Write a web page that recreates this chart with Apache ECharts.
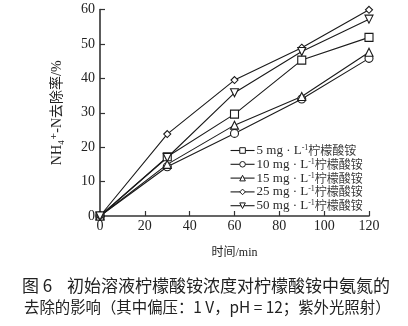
<!DOCTYPE html>
<html>
<head>
<meta charset="utf-8">
<script src="https://cdn.jsdelivr.net/npm/echarts@6/dist/echarts.min.js"></script>
<style>
  html, body { margin: 0; padding: 0; background: #fff; }
  #chart { width: 408px; height: 326px; }
</style>
</head>
<body>
<div id="chart"></div>
<script>
// Sampling times (min)
const times = [0, 30, 60, 90, 120];

// NH4+-N removal (%) for each initial ammonium citrate concentration
const conc5 = [0, 17.2, 29.6, 45.3, 51.9];
const conc10 = [0, 14.3, 24.0, 34.0, 45.8];
const conc15 = [0, 15.0, 26.4, 34.7, 47.6];
const conc25 = [0, 23.8, 39.5, 48.9, 59.9];
const conc50 = [0, 17.0, 35.8, 47.8, 57.2];

const seriesNames = ['5 mg', '10 mg', '15 mg', '25 mg', '50 mg'];
const xTicks = [0, 20, 40, 60, 80, 100, 120];
const yTicks = [0, 10, 20, 30, 40, 50, 60];

const serif = '"Liberation Serif", "DejaVu Serif", "Noto Sans CJK SC", serif';
const ink = '#1a1a1a';

const markers = [
  { symbol: 'rect', size: 8, rotate: 0 },
  { symbol: 'circle', size: 8, rotate: 0 },
  { symbol: 'triangle', size: 8, rotate: 0 },
  { symbol: 'diamond', size: 7, rotate: 0 },
  { symbol: 'triangle', size: 8, rotate: 180 }
];
const values = [conc5, conc10, conc15, conc25, conc50];

const series = seriesNames.map((name, i) => ({
  name: name,
  type: 'line',
  data: times.map((t, j) => [t, values[i][j]]),
  symbol: markers[i].symbol,
  symbolSize: markers[i].size,
  symbolRotate: markers[i].rotate,
  showAllSymbol: true,
  lineStyle: { color: ink, width: 1.1 },
  itemStyle: { color: '#fff', borderColor: ink, borderWidth: 1.1 },
  emphasis: { disabled: true },
  z: 3
}));

const chart = echarts.init(document.getElementById('chart'), null, { renderer: 'canvas' });
chart.setOption({
  animation: false,
  backgroundColor: '#fff',
  grid: { left: 100, right: 39, top: 9.5, bottom: 110, containLabel: false },
  xAxis: {
    type: 'value',
    min: xTicks[0],
    max: xTicks[xTicks.length - 1],
    interval: 20,
    axisLine: { show: true, lineStyle: { color: '#333', width: 1.6 } },
    axisTick: { show: true, inside: true, length: 5, lineStyle: { color: '#333', width: 1.2 } },
    axisLabel: { color: '#222', fontFamily: serif, fontSize: 14, margin: 3 },
    splitLine: { show: false },
    name: '时间/min',
    nameLocation: 'middle',
    nameGap: 31,
    nameTextStyle: { color: '#222', fontFamily: serif, fontSize: 12 }
  },
  yAxis: {
    type: 'value',
    min: yTicks[0],
    max: yTicks[yTicks.length - 1],
    interval: 10,
    axisLine: { show: true, lineStyle: { color: '#333', width: 1.6 } },
    axisTick: { show: true, inside: true, length: 5, lineStyle: { color: '#333', width: 1.2 } },
    axisLabel: { color: '#222', fontFamily: serif, fontSize: 14, margin: 5 },
    splitLine: { show: false },
    name: 'NH₄⁺-N去除率/%',
    nameLocation: 'middle',
    nameRotate: 90,
    nameGap: 36,
    nameTextStyle: { color: '#222', fontFamily: serif, fontSize: 14 }
  },
  legend: {
    orient: 'vertical',
    left: 225,
    top: 139,
    itemWidth: 24,
    itemHeight: 7,
    itemGap: 0.8,
    selectedMode: false,
    data: seriesNames,
    itemStyle: { borderWidth: 1 },
    lineStyle: { width: 1.1 },
    formatter: name => '{t|' + name + ' · L}{s|-1}{c|柠檬酸铵}',
    textStyle: {
      color: '#222',
      fontFamily: serif,
      fontSize: 13,
      lineHeight: 13,
      padding: [0, 0, 0, -3],
      rich: {
        t: { fontFamily: serif, fontSize: 13, lineHeight: 13, color: '#2a2a2a' },
        s: { fontFamily: serif, fontSize: 8, lineHeight: 8, verticalAlign: 'top', color: '#2a2a2a' },
        c: { fontFamily: '"Noto Sans CJK SC", serif', fontSize: 12, lineHeight: 13, color: '#3a3a3a' }
      }
    }
  },
  graphic: [
    {
      type: 'text',
      left: 22,
      top: 277,
      style: {
        text: '图 6',
        fill: '#222',
        font: '17px "Noto Sans CJK SC", serif'
      }
    },
    {
      type: 'text',
      left: 67,
      top: 277,
      style: {
        text: '初始溶液柠檬酸铵浓度对柠檬酸铵中氨氮的',
        fill: '#222',
        font: '17px "Noto Sans CJK SC", serif'
      }
    },
    {
      type: 'text',
      left: 24,
      top: 299,
      style: {
        text: '去除的影响（其中偏压：1 V，pH = 12；紫外光照射）',
        fill: '#222',
        font: '15.4px "Noto Sans CJK SC", serif'
      }
    }
  ],
  series: series
});
</script>
</body>
</html>
